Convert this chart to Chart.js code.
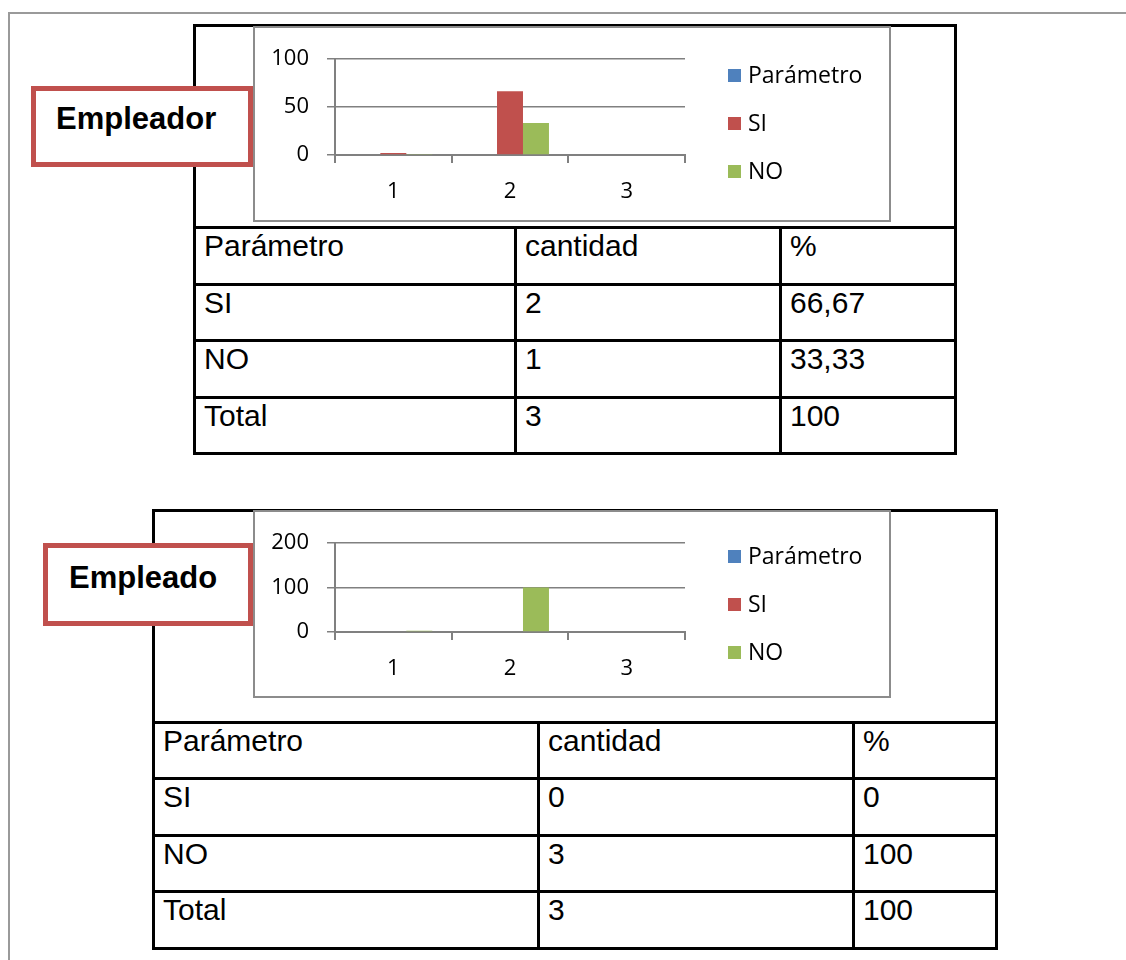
<!DOCTYPE html>
<html>
<head>
<meta charset="utf-8">
<script src="https://cdn.jsdelivr.net/npm/chart.js@4.4.0/dist/chart.umd.min.js"></script>
<style>
    html, body { margin: 0; padding: 0; background: #fff; width: 1126px; height: 960px; overflow: hidden; }
    .page { position: absolute; left: 8px; top: 12px; width: 1200px; height: 1000px;
            border-left: 2px solid #9a9a9a; border-top: 2px solid #9a9a9a; }
    table.data { position: absolute; border-collapse: collapse; table-layout: fixed;
                 font-family: "Liberation Sans", Arial, sans-serif; font-size: 30px; color: #000; }
    table.data td { border: 3px solid #000; padding: 0 0 0 8px; vertical-align: top; line-height: 34px; }
    .chartBox { position: absolute; border: 2px solid #8c8c8c; background: #fff; }
    .chartBox canvas { display: block; }
    .tag { position: absolute; box-sizing: border-box; border: 5px solid #c0504d; background: #fff;
           font-family: "Liberation Sans", Arial, sans-serif; font-weight: bold; font-size: 31px; color: #000; }
</style>
</head>
<body>
<div class="page"></div>

<!-- Empleador -->
<table class="data" id="table1" style="left:193px; top:24px;">
    <colgroup><col style="width:321px"><col style="width:265px"><col style="width:175px"></colgroup>
    <tbody></tbody>
</table>
<div class="chartBox" style="left:253px; top:26px; width:634px; height:192px;">
    <canvas id="chart1" width="634" height="192"></canvas>
</div>
<div class="tag" style="left:31px; top:86px; width:222px; height:81px; padding:10px 0 0 20px;">Empleador</div>

<!-- Empleado -->
<table class="data" id="table2" style="left:152px; top:509px;">
    <colgroup><col style="width:385px"><col style="width:315px"><col style="width:143px"></colgroup>
    <tbody></tbody>
</table>
<div class="chartBox" style="left:253px; top:510px; width:634px; height:184px;">
    <canvas id="chart2" width="634" height="184"></canvas>
</div>
<div class="tag" style="left:43px; top:543px; width:210px; height:83px; padding:12px 0 0 21px;">Empleado</div>

<script>
// Chart data
const categories = ['1', '2', '3'];
const seriesNames = ['Parámetro', 'SI', 'NO'];
const seriesColors = ['#4f81bd', '#c0504d', '#9bbb59'];

const empleadorParametro = [null, null, null];
const empleadorSi = [2, 66.67, null];
const empleadorNo = [1, 33.33, null];

const empleadoParametro = [null, null, null];
const empleadoSi = [0, 0, null];
const empleadoNo = [3, 100, null];

// Table rows
const tableHeader = ['Parámetro', 'cantidad', '%'];
const empleadorRows = [['SI', '2', '66,67'], ['NO', '1', '33,33'], ['Total', '3', '100']];
const empleadoRows = [['SI', '0', '0'], ['NO', '3', '100'], ['Total', '3', '100']];

const AXIS_GRAY = '#808080';
const TICK_FONT = { family: '"Open Sans", sans-serif', size: 22 };

function fillTable(id, chartRowHeight, rowHeights, rows) {
    const body = document.getElementById(id).getElementsByTagName('tbody')[0];
    const chartRow = body.insertRow();
    chartRow.style.height = chartRowHeight + 'px';
    const c = chartRow.insertCell();
    c.colSpan = 3;
    const all = [tableHeader].concat(rows);
    all.forEach((r, i) => {
        const row = body.insertRow();
        row.style.height = rowHeights[i] + 'px';
        r.forEach(v => { row.insertCell().textContent = v; });
    });
}

// Legend drawn on the right like the Excel one
const sideLegend = {
    id: 'sideLegend',
    afterDraw(chart, args, opts) {
        const ctx = chart.ctx;
        ctx.save();
        ctx.font = '23px "Open Sans", sans-serif';
        ctx.textBaseline = 'middle';
        chart.data.datasets.forEach((ds, i) => {
            const y = opts.ys[i];
            ctx.fillStyle = ds.backgroundColor;
            ctx.fillRect(opts.x, y - 6, 13, 13);
            ctx.fillStyle = '#000';
            ctx.fillText(ds.label, opts.x + 20, y + 1);
        });
        ctx.restore();
    }
};

function makeChart(canvasId, data, yMax, yStep, plotTop, plotBottom, legendYs) {
    const canvas = document.getElementById(canvasId);
    const h = canvas.height;
    return new Chart(canvas, {
        type: 'bar',
        data: {
            labels: categories,
            datasets: data.map((d, i) => ({
                label: seriesNames[i],
                data: d,
                backgroundColor: seriesColors[i],
                borderWidth: 0,
                categoryPercentage: 0.668,
                barPercentage: 1.0
            }))
        },
        plugins: [sideLegend],
        options: {
            responsive: false,
            animation: false,
            layout: { padding: { left: 0, top: plotTop, right: 634 - 430, bottom: 0 } },
            plugins: {
                legend: { display: false },
                tooltip: { enabled: false },
                sideLegend: { x: 473, ys: legendYs }
            },
            scales: {
                x: {
                    grid: { drawOnChartArea: false, drawTicks: true, tickLength: 8, color: AXIS_GRAY, lineWidth: 2 },
                    border: { color: AXIS_GRAY, width: 2 },
                    ticks: { color: '#000', font: TICK_FONT, padding: 16 },
                    afterFit: s => { s.height = h - plotBottom; }
                },
                y: {
                    min: 0,
                    max: yMax,
                    grid: { color: AXIS_GRAY, lineWidth: 1.5, tickLength: 8 },
                    border: { color: AXIS_GRAY, width: 2 },
                    ticks: { stepSize: yStep, color: '#000', font: TICK_FONT, padding: 18 },
                    afterFit: s => { s.width = 80; }
                }
            }
        }
    });
}

fillTable('table1', 202, [57, 56, 57, 56], empleadorRows);
fillTable('table2', 212, [56, 57, 56, 57], empleadoRows);

makeChart('chart1', [empleadorParametro, empleadorSi, empleadorNo], 100, 50, 26, 127, [47, 95, 143]);
makeChart('chart2', [empleadoParametro, empleadoSi, empleadoNo], 200, 100, 27, 120, [44, 92, 140]);
</script>
</body>
</html>
